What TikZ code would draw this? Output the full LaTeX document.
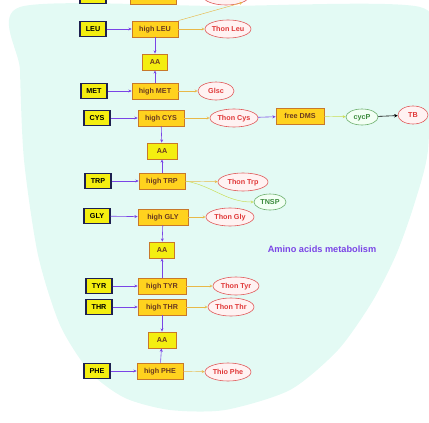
\documentclass[tikz,border=0pt]{standalone}
\usepackage{fontspec}
\setsansfont{Liberation Sans}
\usetikzlibrary{shapes.geometric,arrows.meta}
\definecolor{bgmint}{HTML}{E3FAF4}
\definecolor{acidfill}{HTML}{F4EE10}
\definecolor{acidline}{HTML}{1E2050}
\definecolor{highfill}{HTML}{FFD21E}
\definecolor{highline}{HTML}{C8782A}
\definecolor{highText}{HTML}{6A3A20}
\definecolor{ovline}{HTML}{E05A5A}
\definecolor{ovfill}{HTML}{FFF2F2}
\definecolor{ovtext}{HTML}{E03838}
\definecolor{gline}{HTML}{6AAE6A}
\definecolor{gfill}{HTML}{F2FFF4}
\definecolor{gtext}{HTML}{3A8A3A}
\definecolor{violetline}{HTML}{7A44E6}
\definecolor{ochre}{HTML}{E8B848}
\definecolor{lime}{HTML}{C8DC50}
\tikzset{
  lbl/.style={font=\sffamily\bfseries\fontsize{7.2}{8}\selectfont, text height=5.2pt, text depth=1.2pt},
  acid/.style={lbl, draw=acidline, line width=1.1pt, fill=acidfill, minimum width=26pt, minimum height=15pt, inner sep=1pt},
  high/.style={lbl, draw=highline, line width=0.8pt, fill=highfill, text=highText, minimum width=46pt, minimum height=16pt, inner sep=1pt},
  aabox/.style={lbl, draw=highline, line width=0.9pt, fill=acidfill, text=highText, minimum width=25pt, minimum height=16pt, inner sep=1pt},
  oval/.style={lbl, ellipse, draw=ovline, line width=0.6pt, fill=ovfill, text=ovtext, minimum width=46pt, minimum height=18pt, inner sep=0pt},
  goval/.style={lbl, ellipse, draw=gline, line width=0.6pt, fill=gfill, text=gtext, minimum width=32pt, minimum height=16pt, inner sep=0pt},
  vio/.style={draw=violetline, line width=0.6pt, -{Stealth[length=3.2pt,width=3pt]}},
  och/.style={draw=ochre, line width=0.45pt, -{Stealth[open,length=3pt,width=3pt]}},
  lim/.style={draw=lime, line width=0.45pt, -{Stealth[open,length=3pt,width=3pt]}},
  blk/.style={draw=black, line width=0.6pt, -{Stealth[length=3.5pt,width=3.5pt]}},
}
\begin{document}
\begin{tikzpicture}[x=1pt,y=-1pt]
\useasboundingbox (0,0) rectangle (429,423);
\begin{scope}
\clip (0,0) rectangle (429,423);
% mint background region
\fill[bgmint] plot[smooth cycle, tension=0.45] coordinates {
  (20,7) (220,6) (420,7) (429,60) (428,150) (414,205) (396,255)
  (372,302) (338,350) (290,390) (225,410) (170,410) (125,398)
  (90,372) (60,325) (38,255) (24,160) (20,70)};

% row cut by the top edge (only its lower rim shows)
\node[acid] (acidtop) at (93,-4) {};
\node[high] (hightop) at (153,-4) {};
\node[oval] (ovtop) at (226,-4) {};

% LEU
\node[acid] (leu) at (93,29) {LEU};
\node[high] (hleu) at (155,29) {high LEU};
\node[oval] (oleu) at (228,29) {Thon Leu};
\node[aabox] (aa1) at (155,62) {AA};
% MET
\node[acid] (met) at (94,91) {MET};
\node[high] (hmet) at (155,91) {high MET};
\node[oval, minimum width=36pt] (omet) at (216,91) {Glsc};
% CYS
\node[acid] (cys) at (97,118) {CYS};
\node[high] (hcys) at (161,118) {high CYS};
\node[oval, minimum width=48pt] (ocys) at (234,118) {Thon Cys};
\node[high, minimum width=48pt] (dms) at (300,116) {free DMS};
\node[goval] (cycp) at (362,117) {cycP};
\node[oval, minimum width=30pt] (tb) at (413,115) {TB};
\node[aabox, minimum width=30pt] (aa2) at (162,151) {AA};
% TRP
\node[acid] (trp) at (98,181) {TRP};
\node[high] (htrp) at (162,181) {high TRP};
\node[oval, minimum width=50pt] (otrp) at (243,182) {Thon Trp};
\node[goval] (tnsp) at (270,202) {TNSP};
% GLY
\node[acid] (gly) at (97,216) {GLY};
\node[high, minimum width=50pt] (hgly) at (163,217) {high GLY};
\node[oval, minimum width=48pt] (ogly) at (230,217) {Thon Gly};
\node[aabox] (aa3) at (162,250) {AA};
% TYR
\node[acid] (tyr) at (99,286) {TYR};
\node[high, minimum width=48pt] (htyr) at (162,286) {high TYR};
\node[oval] (otyr) at (236,286) {Thon Tyr};
% THR
\node[acid] (thr) at (99,307) {THR};
\node[high, minimum width=48pt] (hthr) at (162,307) {high THR};
\node[oval] (othr) at (231,307) {Thon Thr};
\node[aabox, minimum width=28pt] (aa4) at (162,340) {AA};
% PHE
\node[acid] (phe) at (97,371) {PHE};
\node[high] (hphe) at (160,371) {high PHE};
\node[oval] (ophe) at (228,372) {Thio Phe};

% caption
\node[font=\sffamily\bfseries\fontsize{9.2}{10}\selectfont, text=violetline] (cap) at (322,249) {Amino acids metabolism};

% amino acid -> high state
\foreach \a/\h in {leu/hleu, met/hmet, cys/hcys, trp/htrp, gly/hgly, tyr/htyr, thr/hthr, phe/hphe}
  \draw[vio] (\a) -- (\h);
% high state -> AA pool
\foreach \h/\p in {hleu/aa1, hmet/aa1, hcys/aa2, htrp/aa2, hgly/aa3, htyr/aa3, hthr/aa4, hphe/aa4}
  \draw[vio] (\h) -- (\p);
% high state -> outcome
\foreach \h/\o in {hleu/oleu, hmet/omet, hcys/ocys, htrp/otrp, hgly/ogly, htyr/otyr, hthr/othr, hphe/ophe}
  \draw[och] (\h) -- (\o);
\draw[och] (hleu.north east) -- (ovtop.south east);
\draw[lim] (htrp.east) to[out=-10, in=180] (tnsp.west);
\draw[vio] (ocys) -- (dms);
\draw[lim] (dms) -- (cycp);
\draw[blk] (cycp) -- (tb);
\end{scope}
\end{tikzpicture}
\end{document}
